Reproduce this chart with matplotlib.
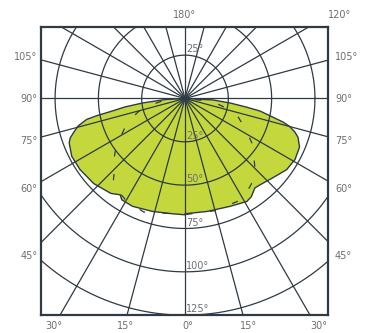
import numpy as np
import matplotlib
matplotlib.use('Agg')
import matplotlib.pyplot as plt

# polar values: gamma (deg from nadir), intensity
main_left_gamma = [90, 87, 84, 82, 80, 79, 78, 75.6, 73, 71, 69, 63, 56, 47, 38, 34, 32, 26, 16, 6, 0]
main_left_cd = [0, 11.5, 24.3, 34.9, 43.9, 51.7, 58, 63.7, 67.3, 70.1, 71.6, 73.4, 73.2, 72, 69.5, 67, 68.9,
                69.2, 67.8, 66.9, 67.1]
main_right_gamma = [0, 11, 23, 31, 34, 38, 41, 48, 55, 61, 67, 71, 73, 75, 76.5, 78, 80.5, 82, 84.3, 87, 90]
main_right_cd = [66.5, 66.4, 67.5, 69.3, 68.4, 65.5, 66, 68.3, 71.6, 72.6, 71.8, 69, 66.3, 62.6, 58.1, 51.8,
                 43.9, 35.8, 26.1, 16.1, 0]

dash_left_gamma = [90, 83, 78.5, 74, 67, 61, 55, 50, 43, 40, 30, 20, 14, 0]
dash_left_cd = [0, 14, 21.8, 28.2, 36.3, 41.4, 48.6, 53.4, 60.1, 64.8, 68, 69.7, 67.9, 67]
dash_right_gamma = [0, 15, 30, 42.5, 47, 55.5, 58.5, 65.5, 72.5, 78, 83.5, 90]
dash_right_cd = [67, 67, 67, 60.5, 54.8, 47.5, 43.8, 36.7, 31.4, 22.4, 16.2, 0]

rings = [25, 50, 75, 100, 125]
ring_labels = ['25°', '50°', '75°', '100°', '125°']
side_labels = ['105°', '90°', '75°', '60°', '45°']
bottom_labels = ['30°', '15°', '0°', '15°', '30°']

line_col = '#2e3a44'
txt_col = '#6b6f73'
fill_col = '#c4d83e'


def to_xy(gamma, cd, side):
    g = np.radians(gamma)
    cd = np.array(cd)
    return side * cd * np.sin(g), -cd * np.cos(g)


W, H = 368, 333
fig = plt.figure(figsize=(W / 100, H / 100), dpi=100)
ax = fig.add_axes([40.7 / W, 1 - 315 / H, 287.6 / W, 288.3 / H])
ax.set_xlim(-83.3, 82.7)
ax.set_ylim(-124.9, 41.4)

# fill
xl, yl = to_xy(main_left_gamma, main_left_cd, -1)
xr, yr = to_xy(main_right_gamma, main_right_cd, 1)
px = np.concatenate([xl, xr])
py = np.concatenate([yl, yr])
ax.fill(px, py, color=fill_col, zorder=1, lw=0)
ax.plot(px, py, color=line_col, lw=1.0, zorder=3, solid_joinstyle='round')

# dashed curve
dxl, dyl = to_xy(dash_left_gamma, dash_left_cd, -1)
dxr, dyr = to_xy(dash_right_gamma, dash_right_cd, 1)
ax.plot(np.concatenate([dxl, dxr]), np.concatenate([dyl, dyr]), color=line_col,
        lw=0.9, ls=(0, (5, 14)), zorder=3)

# grid: spokes every 15 deg and rings
for a in range(0, 360, 15):
    t = np.radians(a)
    ax.plot([0, 300 * np.sin(t)], [0, -300 * np.cos(t)], color=line_col, lw=0.9, zorder=2)
th = np.linspace(0, 2 * np.pi, 400)
for r in rings:
    ax.plot(r * np.cos(th), r * np.sin(th), color=line_col, lw=0.9, zorder=2)

# ring labels
for r, lab in zip(rings, ring_labels):
    ax.text(0.6, -r + 0.5, lab, color=txt_col, fontsize=7, ha='left', va='bottom', zorder=4)
ax.text(0.6, 25.5, '25°', color=txt_col, fontsize=7, ha='left', va='bottom', zorder=4)

ax.set_xticks([])
ax.set_yticks([])
for sp in ax.spines.values():
    sp.set_color(line_col)
    sp.set_linewidth(1.6)

# outside labels
side_y = [57, 99, 141, 189, 256]
for lab, y in zip(side_labels, side_y):
    fig.text(37.5 / W, 1 - y / H, lab, color=txt_col, fontsize=7, ha='right', va='center')
    fig.text(335 / W, 1 - y / H, lab, color=txt_col, fontsize=7, ha='left', va='center')
fig.text(185 / W, 1 - 15 / H, '180°', color=txt_col, fontsize=7, ha='center', va='center')
fig.text(340 / W, 1 - 15 / H, '120°', color=txt_col, fontsize=7, ha='center', va='center')
bottom_x = [54, 126, 188, 249, 319]
for lab, x in zip(bottom_labels, bottom_x):
    fig.text(x / W, 1 - 326 / H, lab, color=txt_col, fontsize=7, ha='center', va='center')

fig.savefig('out.png', dpi=100)
